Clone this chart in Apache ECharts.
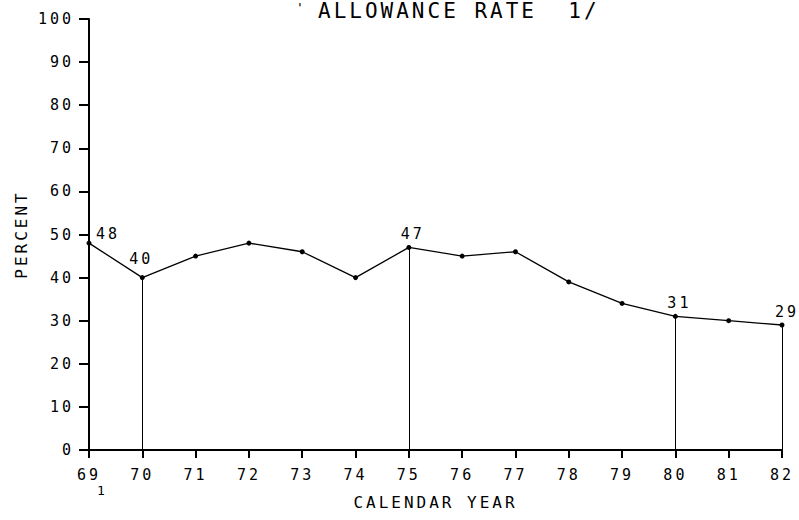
<!DOCTYPE html>
<html><head><meta charset="utf-8">
<script src="https://cdn.jsdelivr.net/npm/echarts@6/dist/echarts.min.js"></script>
<style>
html,body{margin:0;padding:0;background:#fff}
#c{width:799px;height:520px}
#c text{letter-spacing:3px}
</style></head><body><div id="c"></div>
<script>
const years = [69,70,71,72,73,74,75,76,77,78,79,80,81,82];
const rates = [48,40,45,48,46,40,47,45,46,39,34,31,30,29];
const labeledYears = [69,70,75,80,82];
const dropYears = [70,75,80,82];
const titleText = 'ALLOWANCE RATE  1/';
const yName = 'PERCENT';
const xName = 'CALENDAR YEAR';

const FONT = '"DejaVu Sans Mono", "Liberation Mono", monospace';
const labelOffsets = {69:[19,-9],70:[-1,-19],75:[4,-13],80:[4,-13],82:[5,-13]};

const seriesData = years.map((yr,i)=>{
  const item = {value:[yr, rates[i]]};
  if (labeledYears.includes(yr)) {
    item.label = {show:true, position:'inside', align:'center', verticalAlign:'middle',
      offset: labelOffsets[yr], formatter: String(rates[i]),
      fontFamily: FONT, fontSize: 15, color:'#000'};
  }
  return item;
});
const drops = dropYears.map(yr=>{
  const v = rates[years.indexOf(yr)];
  return [{coord:[yr,0]},{coord:[yr,v]}];
});

const chart = echarts.init(document.getElementById('c'), null, {renderer:'svg'});
chart.setOption({
  animation:false,
  backgroundColor:'#fff',
  grid:{left:89, right:17, top:19, bottom:70},
  xAxis:{type:'value', min:69, max:82, interval:1,
    name:xName, nameLocation:'middle', nameGap:44,
    nameTextStyle:{fontFamily:FONT, fontSize:16, color:'#000'},
    axisLine:{lineStyle:{color:'#000', width:2}},
    axisTick:{length:8, lineStyle:{color:'#000', width:2}},
    axisLabel:{margin:17, fontFamily:FONT, fontSize:15, color:'#000'},
    splitLine:{show:false}},
  yAxis:{type:'value', min:0, max:100, interval:10,
    name:yName, nameLocation:'middle', nameGap:60,
    nameTextStyle:{fontFamily:FONT, fontSize:16, color:'#000'},
    axisLine:{show:true, lineStyle:{color:'#000', width:2}},
    axisTick:{show:true, length:10, lineStyle:{color:'#000', width:2}},
    axisLabel:{margin:15, fontFamily:FONT, fontSize:15, color:'#000'},
    splitLine:{show:false}},
  graphic:[
    {type:'text', left:318, top:0, style:{text:titleText, font:'21px '+FONT, fill:'#000'}},
    {type:'text', left:296, top:1, style:{text:"'", font:'13px '+FONT, fill:'#000'}},
    {type:'text', left:97, top:484, style:{text:'1', font:'13px '+FONT, fill:'#000'}}
  ],
  series:[{
    type:'line', data:seriesData, symbol:'circle', symbolSize:5,
    lineStyle:{color:'#000', width:1.3}, itemStyle:{color:'#000'},
    label:{show:false},
    markLine:{silent:true, symbol:'none', label:{show:false},
      lineStyle:{color:'#000', width:1, type:'solid'}, data:drops}
  }]
});
</script></body></html>
